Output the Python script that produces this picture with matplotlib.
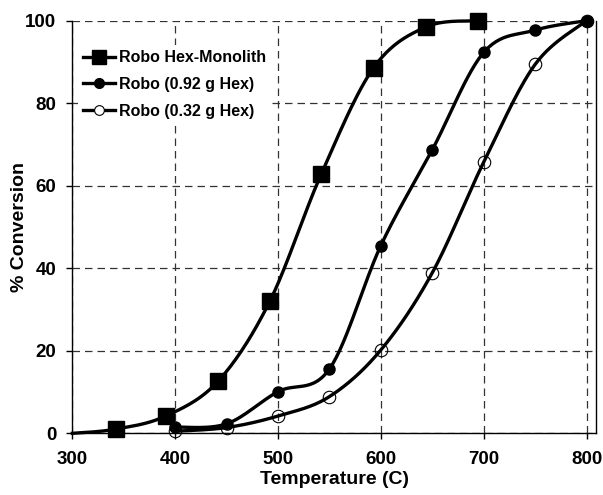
import numpy as np
import matplotlib
matplotlib.use("Agg")
import matplotlib.pyplot as plt

plt.rcParams["font.family"] = ["Liberation Sans", "DejaVu Sans"]
plt.rcParams["font.weight"] = "bold"

# Robo Hex-Monolith (line starts at 300, 0 without a marker)
monoTemp = [300, 342, 391, 442, 492, 542, 593, 644, 694]
monoConv = [0, 1.0, 4.2, 12.7, 32.0, 62.8, 88.6, 98.5, 100]

# Robo (0.92 g Hex)
hex92Temp = [400, 450, 500, 550, 600, 650, 700, 750, 800]
hex92Conv = [1.5, 2.3, 10.1, 15.6, 45.5, 68.7, 92.3, 97.7, 100]

# Robo (0.32 g Hex)
hex32Temp = [400, 450, 500, 550, 600, 650, 700, 750, 800]
hex32Conv = [0.5, 1.4, 4.2, 8.9, 20.2, 38.9, 65.7, 89.4, 100]


def smooth(xs, ys, n=30):
    # Catmull-Rom style smoothing like Excel's smoothed lines
    xs = np.asarray(xs, float)
    ys = np.asarray(ys, float)
    px = np.concatenate([[xs[0]], xs, [xs[-1]]])
    py = np.concatenate([[ys[0]], ys, [ys[-1]]])
    outX, outY = [], []
    for i in range(1, len(px) - 2):
        p0, p1, p2, p3 = (np.array([px[j], py[j]]) for j in (i - 1, i, i + 1, i + 2))
        c1 = p1 + (p2 - p0) / 6
        c2 = p2 - (p3 - p1) / 6
        t = np.linspace(0, 1, n)[:, None]
        pts = ((1 - t) ** 3) * p1 + 3 * ((1 - t) ** 2) * t * c1 + 3 * (1 - t) * t ** 2 * c2 + t ** 3 * p2
        outX.extend(pts[:, 0])
        outY.extend(pts[:, 1])
    return outX, outY


fig = plt.figure(figsize=(6.03, 4.95), dpi=100)
ax = fig.add_axes([0.12, 0.1246, 0.868, 0.8336])

lw = 2.4
sx, sy = smooth(monoTemp, monoConv)
ax.plot(sx, sy, color="black", linewidth=lw, zorder=3, clip_on=False)
ax.plot(monoTemp[1:], monoConv[1:], linestyle="none", marker="s", markersize=11,
        color="black", zorder=4, clip_on=False)

sx, sy = smooth(hex92Temp, hex92Conv)
ax.plot(sx, sy, color="black", linewidth=lw, zorder=3, clip_on=False)
ax.plot(hex92Temp, hex92Conv, linestyle="none", marker="o", markersize=8,
        color="black", zorder=4, clip_on=False)

sx, sy = smooth(hex32Temp, hex32Conv)
ax.plot(sx, sy, color="black", linewidth=lw, zorder=3, clip_on=False)
ax.plot(hex32Temp, hex32Conv, linestyle="none", marker="o", markersize=9,
        markerfacecolor="none", markeredgecolor="black", markeredgewidth=0.8, zorder=4,
        clip_on=False)

# legend proxies
ax.plot([], [], color="black", linewidth=lw, marker="s", markersize=10, label="Robo Hex-Monolith")
ax.plot([], [], color="black", linewidth=lw, marker="o", markersize=7, label="Robo (0.92 g Hex)")
ax.plot([], [], color="black", linewidth=lw, marker="o", markersize=7,
        markerfacecolor="white", markeredgewidth=0.8, label="Robo (0.32 g Hex)")
leg = ax.legend(loc="upper left", bbox_to_anchor=(0.0115, 0.940), frameon=True,
                handlelength=2.0, handletextpad=0.25, labelspacing=0.73,
                borderpad=0.3, borderaxespad=0, fancybox=False, framealpha=1,
                prop={"weight": "bold", "size": 11.5})
leg.get_frame().set_facecolor("white")
leg.get_frame().set_edgecolor("none")

ax.set_xlim(300, 809)
ax.set_ylim(0, 100)
ax.set_xticks([300, 400, 500, 600, 700, 800])
ax.set_yticks([0, 20, 40, 60, 80, 100])
ax.tick_params(axis="both", direction="out", length=4, width=1, labelsize=13.5)
ax.tick_params(axis="x", pad=8.5)
ax.tick_params(axis="y", pad=7.5)
for lab in ax.get_xticklabels() + ax.get_yticklabels():
    lab.set_fontweight("bold")

ax.grid(True, linestyle=(0, (6, 4)), color="#333333", linewidth=0.9)
ax.set_axisbelow(True)
ax.spines["top"].set_visible(False)
for s in ("left", "right", "bottom"):
    ax.spines[s].set_linewidth(1.0)

ax.set_xlabel("Temperature (C)", fontsize=14, fontweight="bold")
ax.set_ylabel("% Conversion", fontsize=14, fontweight="bold")
ax.xaxis.set_label_coords(0.501, -0.091)
ax.yaxis.set_label_coords(-0.085, 0.5)

fig.savefig("out.png", dpi=100)
